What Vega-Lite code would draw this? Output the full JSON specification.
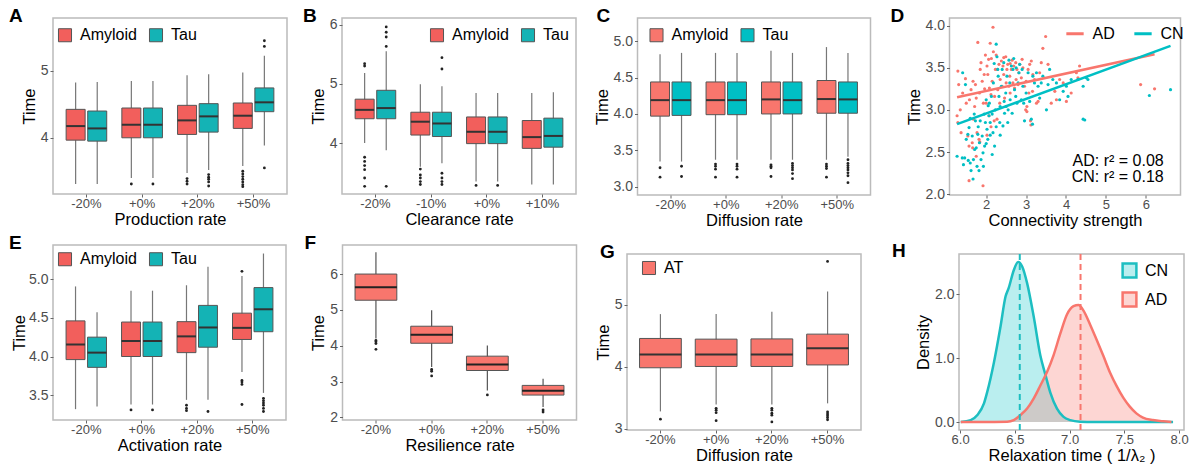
{
"$schema": "https://vega.github.io/schema/vega-lite/v6.json",
"padding": {"left": 8, "top": 5, "right": 0, "bottom": 0},
"spacing": 3,
"resolve": {"scale": {"color": "independent", "fill": "independent", "stroke": "independent", "xOffset": "independent", "x": "independent", "y": "independent"}, "legend": {"color": "independent", "fill": "independent", "stroke": "independent"}},
"config": {
 "font": "Liberation Sans",
 "view": {"stroke": "#BBBBBB", "strokeWidth": 1.5},
 "axis": {"grid": false, "domain": false, "ticks": true, "tickColor": "#666", "tickSize": 3, "tickWidth": 1, "labelColor": "#4D4D4D", "labelFontSize": 13, "labelPadding": 2, "titleFontSize": 16.5, "titleFontWeight": "normal", "titleColor": "#000", "titlePadding": 3},
 "axisX": {"labelAngle": 0, "titlePadding": 1, "labelPadding": 0, "labelFlush": false},
 "axisY": {"labelFontSize": 14, "labelPadding": 2, "titlePadding": 3},
 "legend": {"labelFontSize": 16, "labelColor": "#000", "symbolSize": 170, "symbolStrokeWidth": 1, "labelOffset": 7, "columnPadding": 10, "padding": 0, "titlePadding": 0},
 "title": {"anchor": "start", "frame": "group", "fontSize": 19, "fontWeight": "bold", "color": "#000", "offset": -8}
},
"datasets": {
 "A_box": [
  {"c":"-20%","g":"Amyloid","lo":3.31,"q1":3.965,"md":4.175,"q3":4.425,"hi":4.825},
  {"c":"-20%","g":"Tau","lo":3.31,"q1":3.95,"md":4.14,"q3":4.40,"hi":4.835},
  {"c":"+0%","g":"Amyloid","lo":3.40,"q1":4.0,"md":4.195,"q3":4.445,"hi":4.85},
  {"c":"+0%","g":"Tau","lo":3.40,"q1":4.0,"md":4.195,"q3":4.445,"hi":4.85},
  {"c":"+20%","g":"Amyloid","lo":3.475,"q1":4.05,"md":4.26,"q3":4.485,"hi":4.935},
  {"c":"+20%","g":"Tau","lo":3.52,"q1":4.085,"md":4.32,"q3":4.51,"hi":4.95},
  {"c":"+50%","g":"Amyloid","lo":3.58,"q1":4.14,"md":4.33,"q3":4.52,"hi":4.975},
  {"c":"+50%","g":"Tau","lo":3.885,"q1":4.39,"md":4.53,"q3":4.745,"hi":5.225}
 ],
 "A_out": [
  {"c":"+0%","g":"Amyloid","v":3.31},{"c":"+0%","g":"Tau","v":3.31},
  {"c":"+20%","g":"Amyloid","v":3.39},{"c":"+20%","g":"Amyloid","v":3.35},{"c":"+20%","g":"Amyloid","v":3.31},
  {"c":"+20%","g":"Tau","v":3.45},{"c":"+20%","g":"Tau","v":3.41},{"c":"+20%","g":"Tau","v":3.38},{"c":"+20%","g":"Tau","v":3.34},{"c":"+20%","g":"Tau","v":3.28},
  {"c":"+50%","g":"Amyloid","v":3.50},{"c":"+50%","g":"Amyloid","v":3.46},{"c":"+50%","g":"Amyloid","v":3.42},{"c":"+50%","g":"Amyloid","v":3.38},{"c":"+50%","g":"Amyloid","v":3.34},{"c":"+50%","g":"Amyloid","v":3.30},{"c":"+50%","g":"Amyloid","v":3.27},
  {"c":"+50%","g":"Tau","v":3.55},{"c":"+50%","g":"Tau","v":5.365},{"c":"+50%","g":"Tau","v":5.45}
 ],
 "B_box": [
  {"c":"-20%","g":"Amyloid","lo":4.0,"q1":4.41,"md":4.56,"q3":4.74,"hi":5.18},
  {"c":"-20%","g":"Tau","lo":3.88,"q1":4.41,"md":4.59,"q3":4.89,"hi":5.55},
  {"c":"-10%","g":"Amyloid","lo":3.6,"q1":4.135,"md":4.36,"q3":4.52,"hi":4.99},
  {"c":"-10%","g":"Tau","lo":3.66,"q1":4.11,"md":4.33,"q3":4.52,"hi":4.96},
  {"c":"+0%","g":"Amyloid","lo":3.35,"q1":3.99,"md":4.19,"q3":4.44,"hi":4.845},
  {"c":"+0%","g":"Tau","lo":3.35,"q1":3.99,"md":4.19,"q3":4.44,"hi":4.845},
  {"c":"+10%","g":"Amyloid","lo":3.30,"q1":3.91,"md":4.10,"q3":4.38,"hi":4.845},
  {"c":"+10%","g":"Tau","lo":3.30,"q1":3.93,"md":4.12,"q3":4.42,"hi":4.856}
 ],
 "B_out": [
  {"c":"-20%","g":"Amyloid","v":5.34},{"c":"-20%","g":"Amyloid","v":5.30},{"c":"-20%","g":"Amyloid","v":3.76},{"c":"-20%","g":"Amyloid","v":3.69},{"c":"-20%","g":"Amyloid","v":3.62},{"c":"-20%","g":"Amyloid","v":3.55},{"c":"-20%","g":"Amyloid","v":3.41},{"c":"-20%","g":"Amyloid","v":3.27},
  {"c":"-20%","g":"Tau","v":5.96},{"c":"-20%","g":"Tau","v":5.87},{"c":"-20%","g":"Tau","v":5.79},{"c":"-20%","g":"Tau","v":5.63},{"c":"-20%","g":"Tau","v":3.27},
  {"c":"-10%","g":"Amyloid","v":3.56},{"c":"-10%","g":"Amyloid","v":3.46},{"c":"-10%","g":"Amyloid","v":3.41},{"c":"-10%","g":"Amyloid","v":3.35},{"c":"-10%","g":"Amyloid","v":3.30},
  {"c":"-10%","g":"Tau","v":5.44},{"c":"-10%","g":"Tau","v":5.25},{"c":"-10%","g":"Tau","v":3.49},{"c":"-10%","g":"Tau","v":3.41},{"c":"-10%","g":"Tau","v":3.35},{"c":"-10%","g":"Tau","v":3.30},
  {"c":"+0%","g":"Amyloid","v":3.285},{"c":"+0%","g":"Tau","v":3.285}
 ],
 "C_box": [
  {"c":"-20%","g":"Amyloid","lo":3.345,"q1":3.97,"md":4.19,"q3":4.44,"hi":4.82},
  {"c":"-20%","g":"Tau","lo":3.345,"q1":3.98,"md":4.19,"q3":4.44,"hi":4.84},
  {"c":"+0%","g":"Amyloid","lo":3.37,"q1":3.99,"md":4.19,"q3":4.44,"hi":4.84},
  {"c":"+0%","g":"Tau","lo":3.37,"q1":3.99,"md":4.19,"q3":4.44,"hi":4.84},
  {"c":"+20%","g":"Amyloid","lo":3.37,"q1":4.0,"md":4.20,"q3":4.44,"hi":4.87},
  {"c":"+20%","g":"Tau","lo":3.37,"q1":4.0,"md":4.19,"q3":4.44,"hi":4.84},
  {"c":"+50%","g":"Amyloid","lo":3.37,"q1":4.01,"md":4.205,"q3":4.46,"hi":4.92},
  {"c":"+50%","g":"Tau","lo":3.41,"q1":4.01,"md":4.20,"q3":4.44,"hi":4.84}
 ],
 "C_out": [
  {"c":"-20%","g":"Amyloid","v":3.26},{"c":"-20%","g":"Amyloid","v":3.13},
  {"c":"-20%","g":"Tau","v":3.28},{"c":"-20%","g":"Tau","v":3.14},
  {"c":"+0%","g":"Amyloid","v":3.31},{"c":"+0%","g":"Amyloid","v":3.28},{"c":"+0%","g":"Amyloid","v":3.24},{"c":"+0%","g":"Amyloid","v":3.13},
  {"c":"+0%","g":"Tau","v":3.31},{"c":"+0%","g":"Tau","v":3.28},{"c":"+0%","g":"Tau","v":3.24},{"c":"+0%","g":"Tau","v":3.13},
  {"c":"+20%","g":"Amyloid","v":3.30},{"c":"+20%","g":"Amyloid","v":3.28},{"c":"+20%","g":"Amyloid","v":3.26},{"c":"+20%","g":"Amyloid","v":3.14},
  {"c":"+20%","g":"Tau","v":3.32},{"c":"+20%","g":"Tau","v":3.29},{"c":"+20%","g":"Tau","v":3.26},{"c":"+20%","g":"Tau","v":3.23},{"c":"+20%","g":"Tau","v":3.18},{"c":"+20%","g":"Tau","v":3.11},
  {"c":"+50%","g":"Amyloid","v":3.31},{"c":"+50%","g":"Amyloid","v":3.28},{"c":"+50%","g":"Amyloid","v":3.25},{"c":"+50%","g":"Amyloid","v":3.13},
  {"c":"+50%","g":"Tau","v":3.37},{"c":"+50%","g":"Tau","v":3.32},{"c":"+50%","g":"Tau","v":3.29},{"c":"+50%","g":"Tau","v":3.26},{"c":"+50%","g":"Tau","v":3.23},{"c":"+50%","g":"Tau","v":3.19},{"c":"+50%","g":"Tau","v":3.15},{"c":"+50%","g":"Tau","v":3.055}
 ],
 "E_box": [
  {"c":"-20%","g":"Amyloid","lo":3.32,"q1":3.96,"md":4.155,"q3":4.46,"hi":4.905},
  {"c":"-20%","g":"Tau","lo":3.355,"q1":3.86,"md":4.05,"q3":4.25,"hi":4.57},
  {"c":"+0%","g":"Amyloid","lo":3.38,"q1":4.0,"md":4.2,"q3":4.445,"hi":4.85},
  {"c":"+0%","g":"Tau","lo":3.38,"q1":4.0,"md":4.2,"q3":4.445,"hi":4.85},
  {"c":"+20%","g":"Amyloid","lo":3.44,"q1":4.05,"md":4.26,"q3":4.45,"hi":4.92},
  {"c":"+20%","g":"Tau","lo":3.44,"q1":4.12,"md":4.375,"q3":4.66,"hi":5.16},
  {"c":"+50%","g":"Amyloid","lo":3.80,"q1":4.22,"md":4.37,"q3":4.56,"hi":5.04},
  {"c":"+50%","g":"Tau","lo":3.53,"q1":4.32,"md":4.61,"q3":4.89,"hi":5.33}
 ],
 "E_out": [
  {"c":"+0%","g":"Amyloid","v":3.31},{"c":"+0%","g":"Tau","v":3.31},
  {"c":"+20%","g":"Amyloid","v":3.37},{"c":"+20%","g":"Amyloid","v":3.33},{"c":"+20%","g":"Amyloid","v":3.30},
  {"c":"+20%","g":"Tau","v":3.29},
  {"c":"+50%","g":"Amyloid","v":5.10},{"c":"+50%","g":"Amyloid","v":3.69},{"c":"+50%","g":"Amyloid","v":3.67},{"c":"+50%","g":"Amyloid","v":3.64},{"c":"+50%","g":"Amyloid","v":3.38},
  {"c":"+50%","g":"Tau","v":3.46},{"c":"+50%","g":"Tau","v":3.43},{"c":"+50%","g":"Tau","v":3.40},{"c":"+50%","g":"Tau","v":3.37},{"c":"+50%","g":"Tau","v":3.33},{"c":"+50%","g":"Tau","v":3.29}
 ],
 "F_box": [
  {"c":"-20%","lo":4.2,"q1":5.27,"md":5.63,"q3":6.0,"hi":6.61},
  {"c":"+0%","lo":3.41,"q1":4.07,"md":4.31,"q3":4.545,"hi":4.99},
  {"c":"+20%","lo":2.75,"q1":3.31,"md":3.48,"q3":3.71,"hi":4.01},
  {"c":"+50%","lo":2.29,"q1":2.625,"md":2.745,"q3":2.895,"hi":3.08}
 ],
 "F_out": [
  {"c":"-20%","v":4.15},{"c":"-20%","v":4.11},{"c":"-20%","v":4.06},{"c":"-20%","v":3.90},
  {"c":"+0%","v":3.34},{"c":"+0%","v":3.29},{"c":"+0%","v":3.16},
  {"c":"+20%","v":2.63},
  {"c":"+50%","v":2.21},{"c":"+50%","v":2.15}
 ],
 "G_box": [
  {"c":"-20%","g":"AT","lo":3.28,"q1":3.984,"md":4.2,"q3":4.457,"hi":4.85},
  {"c":"+0%","g":"AT","lo":3.39,"q1":4.005,"md":4.2,"q3":4.446,"hi":4.85},
  {"c":"+20%","g":"AT","lo":3.39,"q1":4.005,"md":4.2,"q3":4.45,"hi":4.89},
  {"c":"+50%","g":"AT","lo":3.41,"q1":4.03,"md":4.3,"q3":4.527,"hi":5.215}
 ],
 "G_out": [
  {"c":"-20%","v":3.155},
  {"c":"+0%","v":3.33},{"c":"+0%","v":3.30},{"c":"+0%","v":3.26},{"c":"+0%","v":3.13},
  {"c":"+20%","v":3.33},{"c":"+20%","v":3.30},{"c":"+20%","v":3.25},{"c":"+20%","v":3.22},{"c":"+20%","v":3.11},
  {"c":"+50%","v":5.7},{"c":"+50%","v":3.27},{"c":"+50%","v":3.24},{"c":"+50%","v":3.21},{"c":"+50%","v":3.18},{"c":"+50%","v":3.145}
 ],
 "D_pts": [
  {"g":"AD","x":1.29,"y":3.46},{"g":"AD","x":1.27,"y":2.93},{"g":"AD","x":1.31,"y":3.30},{"g":"AD","x":1.35,"y":3.00},{"g":"AD","x":1.37,"y":2.73},
  {"g":"AD","x":1.41,"y":3.20},{"g":"AD","x":1.48,"y":3.37},{"g":"AD","x":1.50,"y":3.08},{"g":"AD","x":1.54,"y":2.69},{"g":"AD","x":1.57,"y":2.57},
  {"g":"AD","x":1.58,"y":3.12},{"g":"AD","x":1.62,"y":3.24},{"g":"AD","x":1.67,"y":3.34},{"g":"AD","x":1.65,"y":2.61},{"g":"AD","x":1.68,"y":2.89},
  {"g":"AD","x":1.71,"y":3.04},{"g":"AD","x":1.73,"y":3.30},{"g":"AD","x":1.75,"y":3.14},{"g":"AD","x":1.77,"y":2.73},{"g":"AD","x":1.79,"y":3.80},
  {"g":"AD","x":1.82,"y":2.65},{"g":"AD","x":1.83,"y":3.20},{"g":"AD","x":1.85,"y":3.48},{"g":"AD","x":1.87,"y":3.56},{"g":"AD","x":1.90,"y":3.34},
  {"g":"AD","x":1.92,"y":2.10},{"g":"AD","x":1.93,"y":3.08},{"g":"AD","x":1.96,"y":3.25},{"g":"AD","x":1.98,"y":3.65},{"g":"AD","x":2.00,"y":3.08},
  {"g":"AD","x":2.02,"y":3.52},{"g":"AD","x":2.04,"y":3.42},{"g":"AD","x":2.07,"y":2.93},{"g":"AD","x":2.08,"y":3.26},{"g":"AD","x":2.10,"y":3.79},
  {"g":"AD","x":2.13,"y":3.61},{"g":"AD","x":2.15,"y":3.34},{"g":"AD","x":2.17,"y":3.98},{"g":"AD","x":2.18,"y":3.69},{"g":"AD","x":2.21,"y":3.16},
  {"g":"AD","x":2.23,"y":3.48},{"g":"AD","x":2.25,"y":3.65},{"g":"AD","x":2.27,"y":2.89},{"g":"AD","x":2.29,"y":3.24},{"g":"AD","x":2.32,"y":3.54},
  {"g":"AD","x":2.34,"y":3.08},{"g":"AD","x":2.35,"y":3.36},{"g":"AD","x":2.38,"y":3.58},{"g":"AD","x":2.40,"y":3.28},{"g":"AD","x":2.42,"y":3.52},
  {"g":"AD","x":2.44,"y":3.42},{"g":"AD","x":2.46,"y":3.14},{"g":"AD","x":2.49,"y":3.63},{"g":"AD","x":2.50,"y":3.32},{"g":"AD","x":2.52,"y":3.48},
  {"g":"AD","x":2.54,"y":3.54},{"g":"AD","x":2.57,"y":3.28},{"g":"AD","x":2.59,"y":3.40},{"g":"AD","x":2.60,"y":3.20},{"g":"AD","x":2.63,"y":3.48},
  {"g":"AD","x":2.65,"y":3.59},{"g":"AD","x":2.67,"y":3.32},{"g":"AD","x":2.69,"y":3.52},{"g":"AD","x":2.71,"y":3.26},{"g":"AD","x":2.74,"y":3.56},
  {"g":"AD","x":2.75,"y":3.36},{"g":"AD","x":2.77,"y":3.48},{"g":"AD","x":2.80,"y":3.30},{"g":"AD","x":2.82,"y":3.44},{"g":"AD","x":2.84,"y":3.54},
  {"g":"AD","x":2.88,"y":3.38},{"g":"AD","x":2.92,"y":3.50},{"g":"AD","x":2.96,"y":3.28},{"g":"AD","x":2.99,"y":3.00},{"g":"AD","x":3.00,"y":3.34},
  {"g":"AD","x":3.02,"y":3.04},{"g":"AD","x":3.05,"y":3.48},{"g":"AD","x":3.07,"y":3.20},{"g":"AD","x":3.09,"y":3.54},{"g":"AD","x":3.11,"y":2.87},
  {"g":"AD","x":3.13,"y":3.58},{"g":"AD","x":3.16,"y":3.22},{"g":"AD","x":3.17,"y":3.42},{"g":"AD","x":3.21,"y":3.36},{"g":"AD","x":3.26,"y":3.08},
  {"g":"AD","x":3.34,"y":3.44},{"g":"AD","x":3.38,"y":3.56},{"g":"AD","x":3.42,"y":3.73},{"g":"AD","x":3.49,"y":3.87},{"g":"AD","x":3.55,"y":3.54},
  {"g":"AD","x":3.63,"y":3.08},{"g":"AD","x":3.72,"y":3.22},{"g":"AD","x":3.76,"y":3.12},{"g":"AD","x":3.84,"y":3.36},{"g":"AD","x":3.93,"y":3.32},
  {"g":"AD","x":4.01,"y":3.10},{"g":"AD","x":4.13,"y":3.20},{"g":"AD","x":4.26,"y":3.44},{"g":"AD","x":4.30,"y":3.38},{"g":"AD","x":4.34,"y":3.52},
  {"g":"AD","x":5.87,"y":3.30},{"g":"AD","x":6.22,"y":3.25},{"g":"AD","x":1.57,"y":2.16},{"g":"AD","x":1.29,"y":2.85},{"g":"AD","x":1.66,"y":2.55},
  {"g":"AD","x":1.84,"y":2.62},{"g":"AD","x":2.02,"y":2.70},{"g":"AD","x":2.12,"y":2.80},{"g":"AD","x":2.20,"y":2.87},{"g":"AD","x":1.75,"y":2.45},
  {"g":"AD","x":2.28,"y":3.48},{"g":"AD","x":2.44,"y":3.62},{"g":"AD","x":2.60,"y":3.55},{"g":"AD","x":2.06,"y":3.60},{"g":"AD","x":1.95,"y":3.42},
  {"g":"AD","x":2.12,"y":3.18},{"g":"AD","x":3.02,"y":2.98},{"g":"AD","x":3.12,"y":2.82},{"g":"AD","x":2.90,"y":3.60},{"g":"AD","x":3.30,"y":3.10},
  {"g":"CN","x":1.27,"y":2.45},{"g":"CN","x":1.40,"y":2.43},{"g":"CN","x":1.43,"y":2.35},{"g":"CN","x":1.46,"y":2.43},{"g":"CN","x":1.41,"y":3.44},
  {"g":"CN","x":1.48,"y":3.30},{"g":"CN","x":1.54,"y":2.71},{"g":"CN","x":1.57,"y":2.79},{"g":"CN","x":1.60,"y":2.37},{"g":"CN","x":1.62,"y":2.28},
  {"g":"CN","x":1.65,"y":2.69},{"g":"CN","x":1.67,"y":2.18},{"g":"CN","x":1.68,"y":2.41},{"g":"CN","x":1.71,"y":2.53},{"g":"CN","x":1.73,"y":2.87},
  {"g":"CN","x":1.75,"y":2.55},{"g":"CN","x":1.77,"y":2.33},{"g":"CN","x":1.79,"y":2.71},{"g":"CN","x":1.82,"y":2.28},{"g":"CN","x":1.83,"y":2.61},
  {"g":"CN","x":1.85,"y":2.87},{"g":"CN","x":1.87,"y":2.41},{"g":"CN","x":1.90,"y":2.69},{"g":"CN","x":1.92,"y":2.49},{"g":"CN","x":1.93,"y":2.33},
  {"g":"CN","x":1.96,"y":2.57},{"g":"CN","x":1.98,"y":2.85},{"g":"CN","x":2.00,"y":3.12},{"g":"CN","x":2.02,"y":2.77},{"g":"CN","x":2.04,"y":2.65},
  {"g":"CN","x":2.07,"y":2.93},{"g":"CN","x":2.08,"y":3.08},{"g":"CN","x":2.10,"y":2.85},{"g":"CN","x":2.13,"y":3.16},{"g":"CN","x":2.15,"y":2.47},
  {"g":"CN","x":2.17,"y":2.73},{"g":"CN","x":2.18,"y":3.32},{"g":"CN","x":2.21,"y":2.57},{"g":"CN","x":2.23,"y":3.00},{"g":"CN","x":2.25,"y":3.78},
  {"g":"CN","x":2.27,"y":3.63},{"g":"CN","x":2.29,"y":3.48},{"g":"CN","x":2.32,"y":3.16},{"g":"CN","x":2.34,"y":2.85},{"g":"CN","x":2.35,"y":3.04},
  {"g":"CN","x":2.38,"y":3.28},{"g":"CN","x":2.40,"y":3.48},{"g":"CN","x":2.42,"y":2.81},{"g":"CN","x":2.44,"y":3.56},{"g":"CN","x":2.46,"y":2.96},
  {"g":"CN","x":2.49,"y":3.20},{"g":"CN","x":2.50,"y":3.04},{"g":"CN","x":2.52,"y":3.40},{"g":"CN","x":2.54,"y":2.85},{"g":"CN","x":2.57,"y":3.59},
  {"g":"CN","x":2.59,"y":3.32},{"g":"CN","x":2.60,"y":3.12},{"g":"CN","x":2.63,"y":3.52},{"g":"CN","x":2.65,"y":2.96},{"g":"CN","x":2.67,"y":3.48},
  {"g":"CN","x":2.69,"y":3.61},{"g":"CN","x":2.71,"y":3.24},{"g":"CN","x":2.74,"y":3.16},{"g":"CN","x":2.75,"y":3.50},{"g":"CN","x":2.77,"y":3.08},
  {"g":"CN","x":2.80,"y":3.32},{"g":"CN","x":2.82,"y":3.44},{"g":"CN","x":2.84,"y":3.54},{"g":"CN","x":2.88,"y":3.12},{"g":"CN","x":2.90,"y":3.48},
  {"g":"CN","x":2.92,"y":3.28},{"g":"CN","x":2.94,"y":3.08},{"g":"CN","x":2.96,"y":2.87},{"g":"CN","x":3.00,"y":3.20},{"g":"CN","x":3.05,"y":3.44},
  {"g":"CN","x":3.09,"y":3.10},{"g":"CN","x":3.13,"y":2.89},{"g":"CN","x":3.16,"y":2.83},{"g":"CN","x":3.17,"y":3.40},{"g":"CN","x":3.21,"y":3.32},
  {"g":"CN","x":3.26,"y":3.44},{"g":"CN","x":3.30,"y":3.28},{"g":"CN","x":3.34,"y":3.14},{"g":"CN","x":3.38,"y":3.32},{"g":"CN","x":3.42,"y":3.40},
  {"g":"CN","x":3.51,"y":3.00},{"g":"CN","x":3.55,"y":3.30},{"g":"CN","x":3.59,"y":3.48},{"g":"CN","x":3.67,"y":3.36},{"g":"CN","x":3.76,"y":3.32},
  {"g":"CN","x":3.84,"y":3.12},{"g":"CN","x":3.93,"y":3.22},{"g":"CN","x":4.01,"y":3.28},{"g":"CN","x":4.05,"y":3.16},{"g":"CN","x":4.13,"y":3.36},
  {"g":"CN","x":4.30,"y":3.36},{"g":"CN","x":4.43,"y":3.28},{"g":"CN","x":4.51,"y":3.38},{"g":"CN","x":4.55,"y":3.36},{"g":"CN","x":4.43,"y":2.89},
  {"g":"CN","x":4.47,"y":2.88},{"g":"CN","x":6.09,"y":3.17},{"g":"CN","x":6.62,"y":3.24},{"g":"CN","x":1.95,"y":2.95},{"g":"CN","x":2.05,"y":3.05},
  {"g":"CN","x":2.15,"y":2.95},{"g":"CN","x":2.25,"y":2.80},{"g":"CN","x":2.35,"y":2.70},{"g":"CN","x":2.45,"y":3.10},{"g":"CN","x":1.80,"y":2.80},
  {"g":"CN","x":1.70,"y":2.95},{"g":"CN","x":2.55,"y":3.00},{"g":"CN","x":2.30,"y":3.40},{"g":"CN","x":2.20,"y":3.55},{"g":"CN","x":2.10,"y":2.70},
  {"g":"CN","x":1.50,"y":2.65},{"g":"CN","x":1.60,"y":2.90},{"g":"CN","x":1.55,"y":2.40},{"g":"CN","x":2.00,"y":2.60}
 ],
 "D_fit": [
  {"g":"AD","x":1.27,"y":3.15},{"g":"AD","x":6.22,"y":3.66},
  {"g":"CN","x":1.27,"y":2.83},{"g":"CN","x":6.62,"y":3.76}
 ],
 "H_dens": [
  {"g":"CN","x":6.006,"d":0},{"g":"CN","x":6.097,"d":0.03},{"g":"CN","x":6.158,"d":0.11},{"g":"CN","x":6.218,"d":0.29},{"g":"CN","x":6.248,"d":0.47},
  {"g":"CN","x":6.309,"d":0.93},{"g":"CN","x":6.37,"d":1.5},{"g":"CN","x":6.415,"d":1.96},{"g":"CN","x":6.445,"d":2.1},{"g":"CN","x":6.491,"d":2.375},
  {"g":"CN","x":6.53,"d":2.5},{"g":"CN","x":6.567,"d":2.43},{"g":"CN","x":6.612,"d":2.17},{"g":"CN","x":6.673,"d":1.64},{"g":"CN","x":6.733,"d":1.04},
  {"g":"CN","x":6.779,"d":0.74},{"g":"CN","x":6.824,"d":0.46},{"g":"CN","x":6.885,"d":0.21},{"g":"CN","x":6.945,"d":0.08},{"g":"CN","x":7.006,"d":0.03},
  {"g":"CN","x":7.097,"d":0.005},{"g":"CN","x":7.218,"d":0},{"g":"CN","x":7.46,"d":0},{"g":"CN","x":7.945,"d":0},
  {"g":"AD","x":6.006,"d":0},{"g":"AD","x":6.2,"d":0},{"g":"AD","x":6.43,"d":0.005},{"g":"AD","x":6.49,"d":0.03},{"g":"AD","x":6.552,"d":0.11},
  {"g":"AD","x":6.612,"d":0.21},{"g":"AD","x":6.673,"d":0.37},{"g":"AD","x":6.733,"d":0.57},{"g":"AD","x":6.794,"d":0.78},{"g":"AD","x":6.855,"d":1.05},
  {"g":"AD","x":6.915,"d":1.38},{"g":"AD","x":6.976,"d":1.68},{"g":"AD","x":7.036,"d":1.81},{"g":"AD","x":7.082,"d":1.83},{"g":"AD","x":7.127,"d":1.74},
  {"g":"AD","x":7.188,"d":1.52},{"g":"AD","x":7.248,"d":1.28},{"g":"AD","x":7.309,"d":1.03},{"g":"AD","x":7.37,"d":0.77},{"g":"AD","x":7.43,"d":0.56},
  {"g":"AD","x":7.49,"d":0.38},{"g":"AD","x":7.55,"d":0.24},{"g":"AD","x":7.61,"d":0.135},{"g":"AD","x":7.67,"d":0.07},{"g":"AD","x":7.76,"d":0.03},
  {"g":"AD","x":7.855,"d":0.01},{"g":"AD","x":7.93,"d":0}
 ],
 "H_mean": [{"g":"CN","m":6.545},{"g":"AD","m":7.10}]
},
"vconcat": [
 {
  "spacing": 15.5,
  "resolve": {"scale": {"color": "independent", "fill": "independent", "stroke": "independent", "xOffset": "independent"}, "legend": {"color": "independent", "fill": "independent", "stroke": "independent"}},
  "hconcat": [
   {
    "spacing": 14,
    "resolve": {"scale": {"color": "independent", "fill": "independent", "stroke": "independent", "xOffset": "independent"}, "legend": {"color": "independent", "fill": "independent", "stroke": "independent"}},
    "hconcat": [
     {
      "title": {"text": "A", "dx": -44},
      "width": 234, "height": 176,
      "encoding": {
       "x": {"field": "c", "type": "nominal", "title": "Production rate", "scale": {"domain": ["-20%","+0%","+20%","+50%"], "paddingInner": 0, "paddingOuter": 0.1}, "axis": {"bandPosition": 0.5}},
       "xOffset": {"field": "g", "type": "nominal", "scale": {"domain": ["Amyloid","Tau"], "paddingInner": 0.12, "paddingOuter": 0.35}}
      },
      "layer": [
       {"data": {"name": "A_box"}, "mark": {"type": "rule", "color": "#777", "strokeWidth": 1.2},
        "encoding": {"y": {"field": "lo", "type": "quantitative", "title": "Time", "scale": {"domain": [3.16, 5.79], "nice": false, "zero": false}, "axis": {"values": [4, 5], "format": "d"}}, "y2": {"field": "hi"}}},
       {"data": {"name": "A_box"}, "mark": {"type": "bar", "stroke": "#555", "strokeWidth": 1},
        "encoding": {"y": {"field": "q1", "type": "quantitative", "title": "Time"}, "y2": {"field": "q3"},
         "fill": {"field": "g", "type": "nominal", "scale": {"domain": ["Amyloid","Tau"], "range": ["#F25F5C","#14B3B5"]}, "legend": {"title": null, "orient": "none", "legendX": 4, "legendY": 9, "direction": "horizontal", "symbolStrokeColor": "#555", "symbolType": "square"}}}},
       {"data": {"name": "A_box"}, "mark": {"type": "tick", "color": "#333", "thickness": 2, "size": 19, "opacity": 1},
        "encoding": {"y": {"field": "md", "type": "quantitative", "title": "Time"}}},
       {"data": {"name": "A_out"}, "mark": {"type": "point", "filled": true, "color": "#222", "size": 8, "opacity": 1},
        "encoding": {"y": {"field": "v", "type": "quantitative", "title": "Time"}}}
      ]
     },
     {
      "title": {"text": "B", "dx": -39},
      "width": 234, "height": 176,
      "encoding": {
       "x": {"field": "c", "type": "nominal", "title": "Clearance rate", "scale": {"domain": ["-20%","-10%","+0%","+10%"], "paddingInner": 0, "paddingOuter": 0.1}, "axis": {"bandPosition": 0.5}},
       "xOffset": {"field": "g", "type": "nominal", "scale": {"domain": ["Amyloid","Tau"], "paddingInner": 0.12, "paddingOuter": 0.35}}
      },
      "layer": [
       {"data": {"name": "B_box"}, "mark": {"type": "rule", "color": "#777", "strokeWidth": 1.2},
        "encoding": {"y": {"field": "lo", "type": "quantitative", "title": "Time", "scale": {"domain": [3.14, 6.11], "nice": false, "zero": false}, "axis": {"values": [4, 5, 6], "format": "d"}}, "y2": {"field": "hi"}}},
       {"data": {"name": "B_box"}, "mark": {"type": "bar", "stroke": "#555", "strokeWidth": 1},
        "encoding": {"y": {"field": "q1", "type": "quantitative", "title": "Time"}, "y2": {"field": "q3"},
         "fill": {"field": "g", "type": "nominal", "scale": {"domain": ["Amyloid","Tau"], "range": ["#F25F5C","#14B3B5"]}, "legend": {"title": null, "orient": "none", "legendX": 87, "legendY": 9, "direction": "horizontal", "symbolStrokeColor": "#555", "symbolType": "square"}}}},
       {"data": {"name": "B_box"}, "mark": {"type": "tick", "color": "#333", "thickness": 2, "size": 19, "opacity": 1},
        "encoding": {"y": {"field": "md", "type": "quantitative", "title": "Time"}}},
       {"data": {"name": "B_out"}, "mark": {"type": "point", "filled": true, "color": "#222", "size": 8, "opacity": 1},
        "encoding": {"y": {"field": "v", "type": "quantitative", "title": "Time"}}}
      ]
     }
    ]
   },
   {
    "spacing": 18,
    "resolve": {"scale": {"color": "independent", "fill": "independent", "stroke": "independent", "xOffset": "independent"}, "legend": {"color": "independent", "fill": "independent", "stroke": "independent"}},
    "hconcat": [
     {
      "title": {"text": "C", "dx": -41},
      "width": 233, "height": 177,
      "encoding": {
       "x": {"field": "c", "type": "nominal", "title": "Diffusion rate", "scale": {"domain": ["-20%","+0%","+20%","+50%"], "paddingInner": 0, "paddingOuter": 0.1}, "axis": {"bandPosition": 0.5}},
       "xOffset": {"field": "g", "type": "nominal", "scale": {"domain": ["Amyloid","Tau"], "paddingInner": 0.12, "paddingOuter": 0.35}}
      },
      "layer": [
       {"data": {"name": "C_box"}, "mark": {"type": "rule", "color": "#777", "strokeWidth": 1.2},
        "encoding": {"y": {"field": "lo", "type": "quantitative", "title": "Time", "scale": {"domain": [2.885, 5.32], "nice": false, "zero": false}, "axis": {"values": [3, 3.5, 4, 4.5, 5], "format": ".1f"}}, "y2": {"field": "hi"}}},
       {"data": {"name": "C_box"}, "mark": {"type": "bar", "stroke": "#555", "strokeWidth": 1},
        "encoding": {"y": {"field": "q1", "type": "quantitative", "title": "Time"}, "y2": {"field": "q3"},
         "fill": {"field": "g", "type": "nominal", "scale": {"domain": ["Amyloid","Tau"], "range": ["#F8766D","#00BFC4"]}, "legend": {"title": null, "orient": "none", "legendX": 11, "legendY": 9, "direction": "horizontal", "symbolStrokeColor": "#555", "symbolType": "square"}}}},
       {"data": {"name": "C_box"}, "mark": {"type": "tick", "color": "#333", "thickness": 2, "size": 19, "opacity": 1},
        "encoding": {"y": {"field": "md", "type": "quantitative", "title": "Time"}}},
       {"data": {"name": "C_out"}, "mark": {"type": "point", "filled": true, "color": "#222", "size": 8, "opacity": 1},
        "encoding": {"y": {"field": "v", "type": "quantitative", "title": "Time"}}}
      ]
     },
     {
      "title": {"text": "D", "dx": -59},
      "width": 231, "height": 177,
      "layer": [
       {"data": {"name": "D_pts"}, "mark": {"type": "point", "filled": true, "size": 10, "opacity": 1},
        "encoding": {
         "x": {"field": "x", "type": "quantitative", "title": "Connectivity strength", "scale": {"domain": [1.08, 6.87], "nice": false, "zero": false}, "axis": {"values": [2, 3, 4, 5, 6]}},
         "y": {"field": "y", "type": "quantitative", "title": "Time", "scale": {"domain": [1.99, 4.09], "nice": false, "zero": false}, "axis": {"values": [2, 2.5, 3, 3.5, 4], "format": ".1f"}},
         "color": {"field": "g", "type": "nominal", "scale": {"domain": ["AD","CN"], "range": ["#F8766D","#00BFC4"]}, "legend": {"title": null, "orient": "none", "legendX": 115, "legendY": 5, "direction": "horizontal", "symbolType": "stroke", "symbolStrokeWidth": 3, "symbolSize": 300, "columnPadding": 12}}
        }},
       {"data": {"name": "D_fit"}, "mark": {"type": "line", "strokeWidth": 2.5},
        "encoding": {
         "x": {"field": "x", "type": "quantitative", "title": "Connectivity strength"},
         "y": {"field": "y", "type": "quantitative", "title": "Time"},
         "color": {"field": "g", "type": "nominal"}
        }},
       {"data": {"values": [{}]}, "mark": {"type": "text", "align": "right", "baseline": "alphabetic", "fontSize": 16, "color": "#000"},
        "encoding": {"x": {"datum": 6.45, "type": "quantitative"}, "y": {"datum": 2.34, "type": "quantitative"}, "text": {"value": "AD:  r² = 0.08"}}},
       {"data": {"values": [{}]}, "mark": {"type": "text", "align": "right", "baseline": "alphabetic", "fontSize": 16, "color": "#000"},
        "encoding": {"x": {"datum": 6.45, "type": "quantitative"}, "y": {"datum": 2.15, "type": "quantitative"}, "text": {"value": "CN:  r² = 0.18"}}}
      ]
     }
    ]
   }
  ]
 },
 {
  "spacing": 16,
  "resolve": {"scale": {"color": "independent", "fill": "independent", "stroke": "independent", "xOffset": "independent"}, "legend": {"color": "independent", "fill": "independent", "stroke": "independent"}},
  "hconcat": [
   {
    "spacing": 16.5,
    "resolve": {"scale": {"color": "independent", "fill": "independent", "stroke": "independent", "xOffset": "independent"}, "legend": {"color": "independent", "fill": "independent", "stroke": "independent"}},
    "hconcat": [
     {
      "title": {"text": "E", "dx": -44},
      "width": 233, "height": 175,
      "encoding": {
       "x": {"field": "c", "type": "nominal", "title": "Activation rate", "scale": {"domain": ["-20%","+0%","+20%","+50%"], "paddingInner": 0, "paddingOuter": 0.1}, "axis": {"bandPosition": 0.5}},
       "xOffset": {"field": "g", "type": "nominal", "scale": {"domain": ["Amyloid","Tau"], "paddingInner": 0.12, "paddingOuter": 0.35}}
      },
      "layer": [
       {"data": {"name": "E_box"}, "mark": {"type": "rule", "color": "#777", "strokeWidth": 1.2},
        "encoding": {"y": {"field": "lo", "type": "quantitative", "title": "Time", "scale": {"domain": [3.18, 5.44], "nice": false, "zero": false}, "axis": {"values": [3.5, 4, 4.5, 5], "format": ".1f", "titlePadding": 1}}, "y2": {"field": "hi"}}},
       {"data": {"name": "E_box"}, "mark": {"type": "bar", "stroke": "#555", "strokeWidth": 1},
        "encoding": {"y": {"field": "q1", "type": "quantitative", "title": "Time"}, "y2": {"field": "q3"},
         "fill": {"field": "g", "type": "nominal", "scale": {"domain": ["Amyloid","Tau"], "range": ["#F25F5C","#14B3B5"]}, "legend": {"title": null, "orient": "none", "legendX": 4, "legendY": 6, "direction": "horizontal", "symbolStrokeColor": "#555", "symbolType": "square"}}}},
       {"data": {"name": "E_box"}, "mark": {"type": "tick", "color": "#333", "thickness": 2, "size": 19, "opacity": 1},
        "encoding": {"y": {"field": "md", "type": "quantitative", "title": "Time"}}},
       {"data": {"name": "E_out"}, "mark": {"type": "point", "filled": true, "color": "#222", "size": 8, "opacity": 1},
        "encoding": {"y": {"field": "v", "type": "quantitative", "title": "Time"}}}
      ]
     },
     {
      "title": {"text": "F", "dx": -38},
      "width": 234, "height": 175,
      "encoding": {
       "x": {"field": "c", "type": "nominal", "title": "Resilience rate", "scale": {"domain": ["-20%","+0%","+20%","+50%"], "paddingInner": 0, "paddingOuter": 0.1}, "axis": {"bandPosition": 0.5}}
      },
      "layer": [
       {"data": {"name": "F_box"}, "mark": {"type": "rule", "color": "#555", "strokeWidth": 1.2},
        "encoding": {"y": {"field": "lo", "type": "quantitative", "title": "Time", "scale": {"domain": [1.93, 6.81], "nice": false, "zero": false}, "axis": {"values": [2, 3, 4, 5, 6], "format": "d"}}, "y2": {"field": "hi"}}},
       {"data": {"name": "F_box"}, "mark": {"type": "bar", "stroke": "#555", "strokeWidth": 1, "fill": "#F8766D", "width": {"band": 0.75}},
        "encoding": {"y": {"field": "q1", "type": "quantitative", "title": "Time"}, "y2": {"field": "q3"}}},
       {"data": {"name": "F_box"}, "mark": {"type": "tick", "color": "#222", "thickness": 2, "size": 42, "opacity": 1},
        "encoding": {"y": {"field": "md", "type": "quantitative", "title": "Time"}}},
       {"data": {"name": "F_out"}, "mark": {"type": "point", "filled": true, "color": "#222", "size": 8, "opacity": 1},
        "encoding": {"y": {"field": "v", "type": "quantitative", "title": "Time"}}}
      ]
     }
    ]
   },
   {
    "spacing": -5,
    "resolve": {"scale": {"color": "independent", "fill": "independent", "stroke": "independent", "xOffset": "independent"}, "legend": {"color": "independent", "fill": "independent", "stroke": "independent"}},
    "vconcat": [
     {"width": 1, "height": 1, "data": {"values": []}, "mark": {"type": "point", "opacity": 0}, "encoding": {}, "view": {"stroke": null}},
     {
      "spacing": 29,
      "resolve": {"scale": {"color": "independent", "fill": "independent", "stroke": "independent", "xOffset": "independent"}, "legend": {"color": "independent", "fill": "independent", "stroke": "independent"}},
      "hconcat": [
       {
        "title": {"text": "G", "dx": -27},
        "width": 234, "height": 176,
        "encoding": {
         "x": {"field": "c", "type": "nominal", "title": "Diffusion rate", "scale": {"domain": ["-20%","+0%","+20%","+50%"], "paddingInner": 0, "paddingOuter": 0.1}, "axis": {"bandPosition": 0.5}}
        },
        "layer": [
         {"data": {"name": "G_box"}, "mark": {"type": "rule", "color": "#777", "strokeWidth": 1.2},
          "encoding": {"y": {"field": "lo", "type": "quantitative", "title": "Time", "scale": {"domain": [2.98, 5.82], "nice": false, "zero": false}, "axis": {"values": [3, 4, 5], "format": "d"}}, "y2": {"field": "hi"}}},
         {"data": {"name": "G_box"}, "mark": {"type": "bar", "stroke": "#555", "strokeWidth": 1, "width": {"band": 0.75}},
          "encoding": {"y": {"field": "q1", "type": "quantitative", "title": "Time"}, "y2": {"field": "q3"},
           "fill": {"field": "g", "type": "nominal", "scale": {"domain": ["AT"], "range": ["#F8766D"]}, "legend": {"title": null, "orient": "none", "legendX": 14, "legendY": 6, "direction": "horizontal", "symbolStrokeColor": "#555", "symbolType": "square"}}}},
         {"data": {"name": "G_box"}, "mark": {"type": "tick", "color": "#333", "thickness": 2, "size": 42, "opacity": 1},
          "encoding": {"y": {"field": "md", "type": "quantitative", "title": "Time"}}},
         {"data": {"name": "G_out"}, "mark": {"type": "point", "filled": true, "color": "#222", "size": 8, "opacity": 1},
          "encoding": {"y": {"field": "v", "type": "quantitative", "title": "Time"}}}
        ]
       },
       {
        "title": {"text": "H", "dx": -67},
        "width": 225, "height": 176,
        "layer": [
         {"data": {"name": "H_dens"}, "mark": {"type": "area", "interpolate": "monotone"},
          "encoding": {
           "x": {"field": "x", "type": "quantitative", "title": "Relaxation time ( 1/λ₂ )", "scale": {"domain": [5.99, 8.045], "nice": false, "zero": false}, "axis": {"values": [6, 6.5, 7, 7.5, 8], "format": ".1f"}},
           "y": {"field": "d", "type": "quantitative", "title": "Density", "stack": null, "scale": {"domain": [-0.125, 2.625], "nice": false, "zero": false}, "axis": {"values": [0, 0.5, 1, 1.5, 2, 2.5], "format": ".1f"}},
           "fill": {"field": "g", "type": "nominal", "scale": {"domain": ["CN","AD"], "range": ["rgba(0,191,196,0.27)","rgba(248,118,109,0.3)"]}, "legend": {"title": null, "orient": "none", "legendX": 162, "legendY": 8, "direction": "vertical", "symbolType": "square", "symbolSize": 190, "symbolStrokeWidth": 2.5, "rowPadding": 4}}
          }},
         {"data": {"name": "H_dens"}, "mark": {"type": "line", "interpolate": "monotone", "strokeWidth": 2.5},
          "encoding": {
           "x": {"field": "x", "type": "quantitative", "title": "Relaxation time ( 1/λ₂ )"},
           "y": {"field": "d", "type": "quantitative", "title": "Density"},
           "stroke": {"field": "g", "type": "nominal", "scale": {"domain": ["CN","AD"], "range": ["#1DBEC1","#F8766D"]}, "legend": {"title": null, "orient": "none", "legendX": 162, "legendY": 8, "direction": "vertical", "symbolType": "square", "symbolSize": 190, "symbolStrokeWidth": 2.5, "rowPadding": 4}}
          }},
         {"data": {"name": "H_mean"}, "mark": {"type": "rule", "strokeDash": [6, 4], "strokeWidth": 2},
          "encoding": {
           "x": {"field": "m", "type": "quantitative", "title": "Relaxation time ( 1/λ₂ )"},
           "stroke": {"field": "g", "type": "nominal"}
          }}
        ]
       }
      ]
     }
    ]
   }
  ]
 }
]
}
